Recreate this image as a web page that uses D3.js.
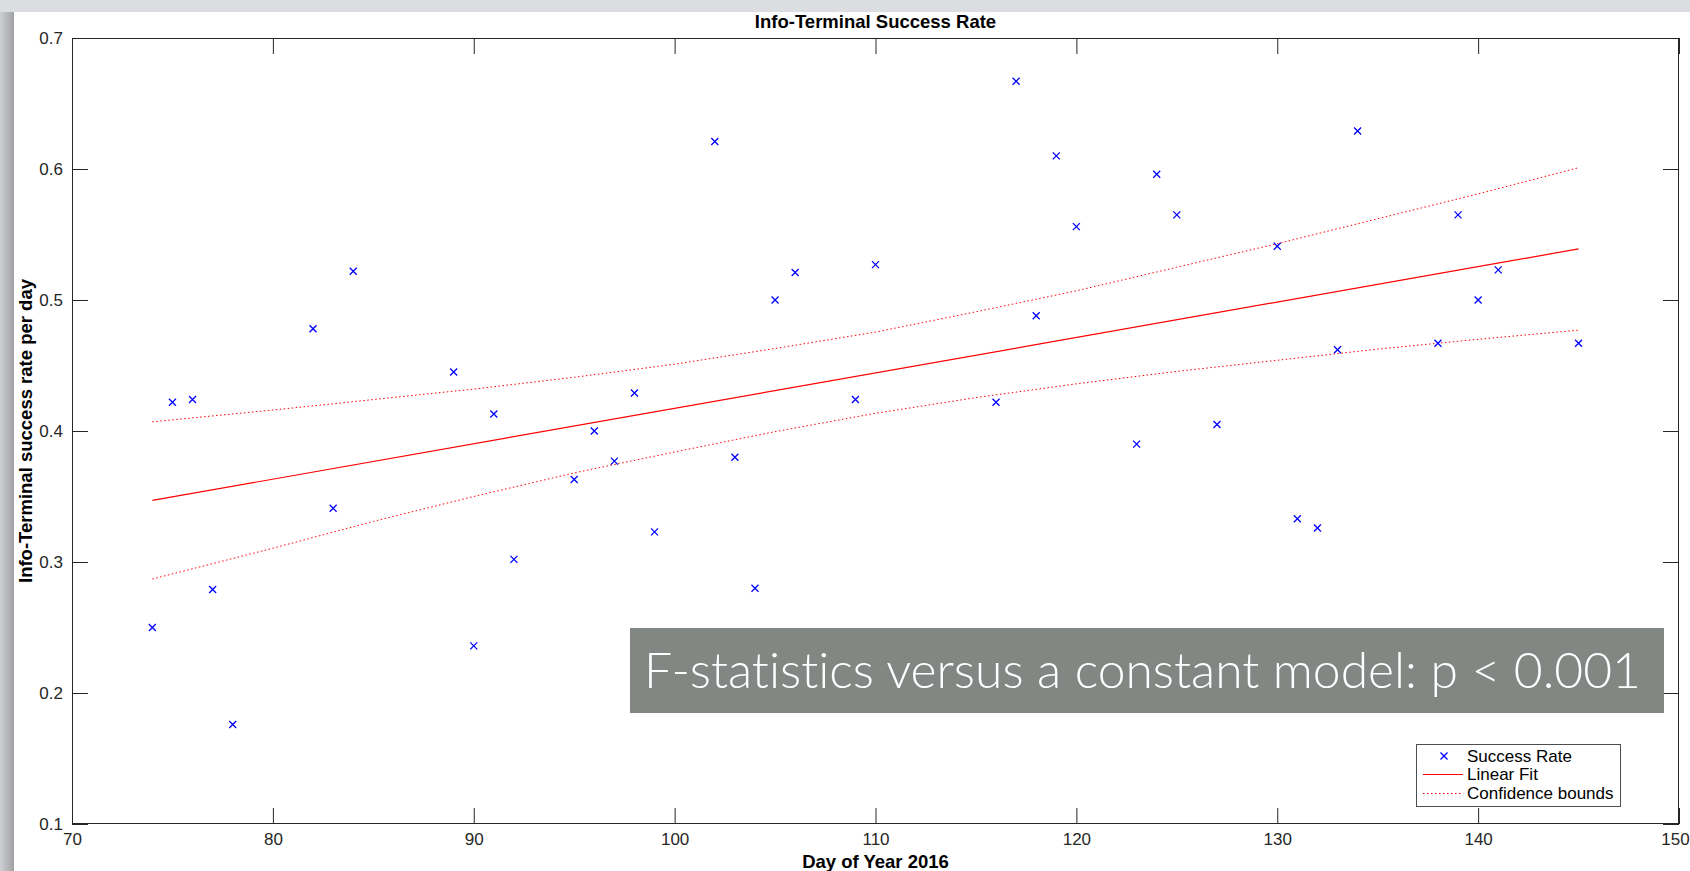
<!DOCTYPE html>
<html>
<head>
<meta charset="utf-8">
<script src="https://cdn.jsdelivr.net/npm/d3@7"></script>
<style>
  html, body { margin: 0; padding: 0; background: #d9dadd; overflow: hidden; }
  svg { display: block; }
  .note { font-variant-ligatures: none; font-feature-settings: "liga" 0, "clig" 0; }
</style>
</head>
<body>
<svg id="chart" width="1690" height="871"></svg>
<script>
// ---------- data ----------
const days = [74, 75, 76, 77, 78, 82, 83, 84, 89, 90, 91, 92, 95, 96, 97, 98, 99,
  102, 103, 104, 105, 106, 109, 110, 116, 117, 118, 119, 120, 123, 124, 125, 127,
  130, 131, 132, 133, 134, 138, 139, 140, 141, 145];
const successRate = [0.250, 0.422, 0.424, 0.279, 0.176, 0.478, 0.341, 0.522, 0.445,
  0.236, 0.413, 0.302, 0.363, 0.400, 0.377, 0.429, 0.323,
  0.621, 0.380, 0.280, 0.500, 0.521, 0.424, 0.527, 0.422, 0.667, 0.488, 0.610,
  0.556, 0.390, 0.596, 0.565, 0.405,
  0.541, 0.333, 0.326, 0.462, 0.629, 0.467, 0.565, 0.500, 0.523, 0.467];

const fitDays = [74, 145];
const fitValues = [0.347, 0.539];

const boundDays = [74, 80, 85, 90, 95, 100, 105, 110, 115, 120, 125, 130, 135, 140, 145];
const upperBound = [0.407, 0.416, 0.424, 0.432, 0.441, 0.451, 0.463, 0.4755, 0.491,
  0.507, 0.525, 0.543, 0.562, 0.581, 0.601];
const lowerBound = [0.287, 0.3105, 0.331, 0.350, 0.368, 0.384, 0.3995, 0.4135, 0.4255,
  0.436, 0.4455, 0.454, 0.4625, 0.470, 0.477];

const xTicks = [70, 80, 90, 100, 110, 120, 130, 140, 150];
const yTicks = [0.1, 0.2, 0.3, 0.4, 0.5, 0.6, 0.7];
const legendLabels = ["Success Rate", "Linear Fit", "Confidence bounds"];
const titleText = "Info-Terminal Success Rate";
const xLabelText = "Day of Year 2016";
const yLabelText = "Info-Terminal success rate per day";
const noteText = "F-statistics versus a constant model: p < 0.001";

// ---------- layout ----------
const svg = d3.select("#chart");
const W = 1690, H = 871;
const plot = { left: 72, right: 1679, top: 38, bottom: 824 };
const axisColor = "#262626";
const font = "'Liberation Sans', Arial, Helvetica, sans-serif";

// background / slide frame
const defs = svg.append("defs");
const lg = defs.append("linearGradient").attr("id", "leftShade").attr("x1", "0").attr("x2", "1");
lg.append("stop").attr("offset", "0").attr("stop-color", "#cfd0d3");
lg.append("stop").attr("offset", "1").attr("stop-color", "#9fa1a4");
svg.append("rect").attr("x", 0).attr("y", 0).attr("width", W).attr("height", H).attr("fill", "#dcdde0");
svg.append("rect").attr("x", 0).attr("y", 12).attr("width", 14).attr("height", H - 12).attr("fill", "url(#leftShade)");
svg.append("rect").attr("x", 14).attr("y", 12).attr("width", W - 14).attr("height", H - 12).attr("fill", "#ffffff");

const x = d3.scaleLinear().domain([70, 150]).range([plot.left, plot.right]);
const y = d3.scaleLinear().domain([0.1, 0.7]).range([plot.bottom, plot.top]);

// ---------- axes ----------
function styleAxis(g) {
  g.select(".domain").remove();
  g.selectAll(".tick line").attr("stroke", axisColor).attr("stroke-width", 1);
  g.selectAll(".tick text").attr("fill", axisColor).attr("font-size", 17).attr("font-family", font);
}
const xAxisG = svg.append("g").attr("transform", `translate(0,${plot.bottom})`)
  .call(d3.axisBottom(x).tickValues(xTicks).tickFormat(d3.format("d")).tickSize(-16).tickPadding(9))
  .call(styleAxis);
// keep the last label ("150") inside the page edge
xAxisG.selectAll(".tick text").filter(d => d === 150).attr("dx", -4);
svg.append("g").attr("transform", `translate(0,${plot.top})`)
  .call(d3.axisTop(x).tickValues(xTicks).tickFormat("").tickSize(-16))
  .call(styleAxis);
svg.append("g").attr("transform", `translate(${plot.left},0)`)
  .call(d3.axisLeft(y).tickValues(yTicks).tickFormat(d3.format(".1f")).tickSize(-16).tickPadding(9))
  .call(styleAxis);
svg.append("g").attr("transform", `translate(${plot.right},0)`)
  .call(d3.axisRight(y).tickValues(yTicks).tickFormat("").tickSize(-16))
  .call(styleAxis);

// frame
svg.append("rect")
  .attr("x", plot.left + 0.5).attr("y", plot.top + 0.5)
  .attr("width", plot.right - plot.left - 1).attr("height", plot.bottom - plot.top - 1)
  .attr("fill", "none").attr("stroke", axisColor).attr("stroke-width", 1);

// ---------- lines ----------
const line = d3.line().x(d => x(d[0])).y(d => y(d[1]));
svg.append("path").datum(boundDays.map((d, i) => [d, upperBound[i]]))
  .attr("d", line).attr("fill", "none").attr("stroke", "#ff0000")
  .attr("stroke-width", 1).attr("stroke-dasharray", "1.5,2.5");
svg.append("path").datum(boundDays.map((d, i) => [d, lowerBound[i]]))
  .attr("d", line).attr("fill", "none").attr("stroke", "#ff0000")
  .attr("stroke-width", 1).attr("stroke-dasharray", "1.5,2.5");
svg.append("path").datum(fitDays.map((d, i) => [d, fitValues[i]]))
  .attr("d", line).attr("fill", "none").attr("stroke", "#ff0000").attr("stroke-width", 1.2);

// ---------- markers ----------
const m = 3.5;
const xMark = `M${-m},${-m}L${m},${m}M${-m},${m}L${m},${-m}`;
svg.append("g").selectAll("path").data(days.map((d, i) => [d, successRate[i]]))
  .join("path")
  .attr("transform", d => `translate(${x(d[0])},${y(d[1])})`)
  .attr("d", xMark).attr("stroke", "#0000ff").attr("stroke-width", 1.3).attr("fill", "none");

// ---------- texts ----------
svg.append("text").attr("x", (plot.left + plot.right) / 2).attr("y", 28)
  .attr("text-anchor", "middle").attr("font-family", font).attr("font-weight", "bold")
  .attr("font-size", 18.5).attr("fill", "#000").text(titleText);
svg.append("text").attr("x", (plot.left + plot.right) / 2).attr("y", 868)
  .attr("text-anchor", "middle").attr("font-family", font).attr("font-weight", "bold")
  .attr("font-size", 18.5).attr("fill", "#000").text(xLabelText);
svg.append("text").attr("transform", `translate(31.5,${(plot.top + plot.bottom) / 2}) rotate(-90)`)
  .attr("text-anchor", "middle").attr("font-family", font).attr("font-weight", "bold")
  .attr("font-size", 18.5).attr("fill", "#000").text(yLabelText);

// ---------- legend ----------
const lgX = 1416, lgY = 744, lgW = 204, lgH = 62;
const legend = svg.append("g");
legend.append("rect").attr("x", lgX + 0.5).attr("y", lgY + 0.5).attr("width", lgW).attr("height", lgH)
  .attr("fill", "#fff").attr("stroke", "#4d4d4d").attr("stroke-width", 1);
const rowY = [756, 774.5, 793.5];
legend.append("path").attr("transform", `translate(1444,${rowY[0]})`)
  .attr("d", xMark).attr("stroke", "#0000ff").attr("stroke-width", 1.3);
legend.append("line").attr("x1", 1423).attr("x2", 1463).attr("y1", rowY[1]).attr("y2", rowY[1])
  .attr("stroke", "#ff0000").attr("stroke-width", 1.2);
legend.append("line").attr("x1", 1423).attr("x2", 1463).attr("y1", rowY[2]).attr("y2", rowY[2])
  .attr("stroke", "#ff0000").attr("stroke-width", 1).attr("stroke-dasharray", "1.5,2.5");
legend.selectAll("text.lab").data(legendLabels).join("text").attr("class", "lab")
  .attr("x", 1467).attr("y", (d, i) => rowY[i]).attr("dy", "0.35em")
  .attr("font-family", font).attr("font-size", 17).attr("fill", "#000").text(d => d);

// ---------- annotation ----------
svg.append("rect").attr("x", 630).attr("y", 628).attr("width", 1034).attr("height", 85)
  .attr("fill", "#838784");
svg.append("text").attr("class", "note").attr("x", 644).attr("y", 688)
  .attr("font-family", "Lato, 'Open Sans', sans-serif").attr("font-weight", 300)
  .attr("font-size", 50).attr("fill", "#ffffff")
  .attr("textLength", 997).attr("lengthAdjust", "spacingAndGlyphs")
  .text(noteText);
</script>
</body>
</html>
